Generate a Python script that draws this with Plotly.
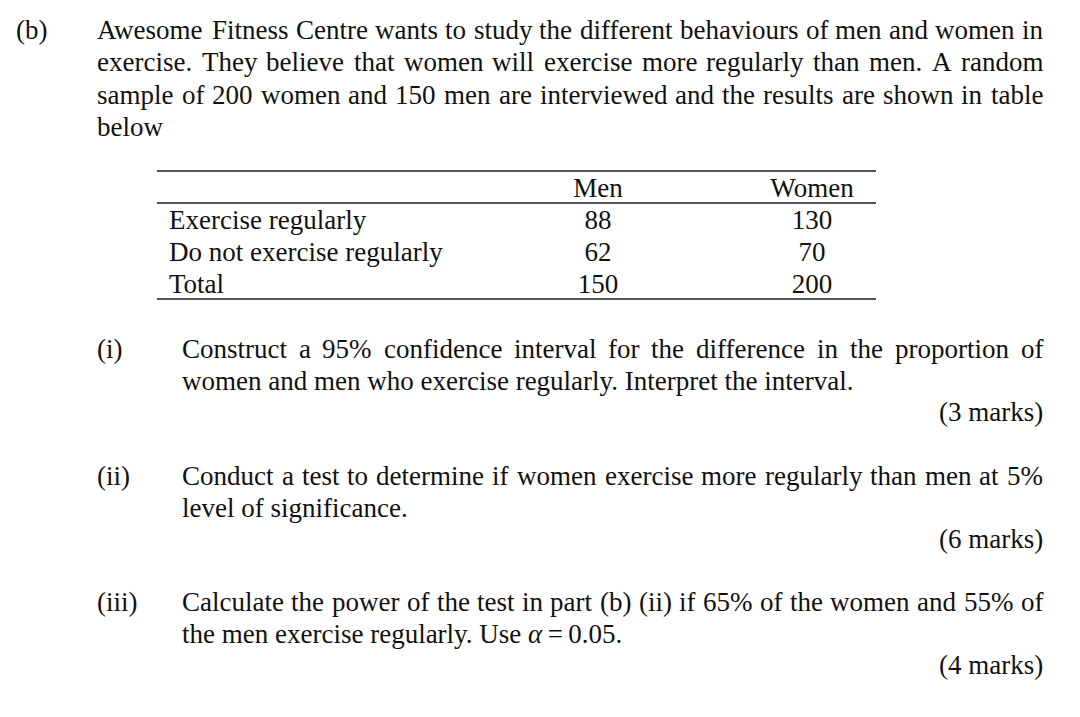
import plotly.graph_objects as go

# ---- data ----
row_labels = ["Exercise regularly", "Do not exercise regularly", "Total"]
col_labels = ["Men", "Women"]
men = [88, 62, 150]
women = [130, 70, 200]

intro_lines = [
    "Awesome Fitness Centre wants to study the different behaviours of men and women in",
    "exercise. They believe that women will exercise more regularly than men. A random",
    "sample of 200 women and 150 men are interviewed and the results are shown in table",
    "below",
]
questions = [
    ("(i)", ["Construct a 95% confidence interval for the difference in the proportion of",
             "women and men who exercise regularly. Interpret the interval."], "(3 marks)"),
    ("(ii)", ["Conduct a test to determine if women exercise more regularly than men at 5%",
              "level of significance."], "(6 marks)"),
    ("(iii)", ["Calculate the power of the test in part (b) (ii) if 65% of the women and 55% of",
               "the men exercise regularly. Use <i>α</i>\u2009=\u20090.05."], "(4 marks)"),
]

FONT = "Liberation Serif"
FS = 27
W, H = 1080, 717
OFF = 8  # page body margin

# Times-Roman advance widths (per 1000 em) for justification
_w = {' ': 250, '!': 333, '%': 833, '(': 333, ')': 333, ',': 250, '-': 333, '.': 250,
      ':': 278, ';': 278, '=': 564}
for c in '0123456789':
    _w[c] = 500
_w.update(dict(zip('ABCDEFGHIJKLMNOPQRSTUVWXYZ',
                   [722, 667, 667, 722, 611, 556, 722, 722, 333, 389, 722, 611, 889, 722, 722,
                    556, 722, 667, 556, 611, 722, 722, 944, 722, 722, 611])))
_w.update(dict(zip('abcdefghijklmnopqrstuvwxyz',
                   [444, 500, 444, 500, 444, 333, 500, 500, 278, 278, 500, 278, 778, 500, 500,
                    500, 500, 333, 389, 278, 500, 500, 722, 500, 500, 444])))


def tw(s, fs=FS):
    return sum(_w.get(c, 500) for c in s) * fs / 1000.0


fig = go.Figure()
ann = []


def text(x, y, s, anchor="left", size=FS):
    ann.append(dict(x=x, y=y, xref="x", yref="y", text=s, showarrow=False,
                    xanchor=anchor, yanchor="middle", borderpad=0, borderwidth=0,
                    font=dict(family=FONT, size=size, color="#111")))


def justified(x0, x1, y, s):
    words = s.split(" ")
    total = sum(tw(w) for w in words)
    gap = (x1 - x0 - total) / (len(words) - 1)
    x = x0
    for w in words:
        text(x, y, w)
        x += tw(w) + gap


RIGHT = 1043
# intro
text(16, 30, "(b)")
for i, ln in enumerate(intro_lines):
    y = 30 + i * 32.3
    if i < len(intro_lines) - 1:
        justified(97, RIGHT, y, ln)
    else:
        text(97, y, ln)

# table
tbl_left, tbl_right = 157, 876
label_x, men_x, women_x = 169, 598, 812
header_y = 190
row_y0, row_h = 222, 32
row_ys = [row_y0 + i * row_h for i in range(len(row_labels))]
TFS = 27

tfont = dict(family=FONT, size=TFS, color="#111")
fig.add_trace(go.Scatter(x=[men_x, women_x], y=[header_y] * 2, text=col_labels,
                         mode="text", textposition="middle center", textfont=tfont,
                         hoverinfo="skip", showlegend=False))
fig.add_trace(go.Scatter(x=[label_x] * len(row_labels), y=row_ys, text=row_labels,
                         mode="text", textposition="middle right", textfont=tfont,
                         hoverinfo="skip", showlegend=False))
fig.add_trace(go.Scatter(x=[men_x] * len(men), y=row_ys, text=[str(v) for v in men],
                         mode="text", textposition="middle center", textfont=tfont,
                         hoverinfo="skip", showlegend=False))
fig.add_trace(go.Scatter(x=[women_x] * len(women), y=row_ys, text=[str(v) for v in women],
                         mode="text", textposition="middle center", textfont=tfont,
                         hoverinfo="skip", showlegend=False))

shapes = []
for yy in (171, 203, 299):
    shapes.append(dict(type="line", xref="x", yref="y", x0=tbl_left, x1=tbl_right,
                       y0=yy, y1=yy, line=dict(color="#555", width=2)))

# questions
q_starts = [349, 476, 602]
for (lab, lines, marks), y0 in zip(questions, q_starts):
    text(97, y0, lab)
    justified(182, RIGHT, y0, lines[0])
    text(182, y0 + 31.5, lines[1])
    text(RIGHT, y0 + 63, marks, anchor="right")

fig.update_layout(
    width=W, height=H, margin=dict(l=0, r=0, t=0, b=0),
    paper_bgcolor="white", plot_bgcolor="white",
    xaxis=dict(range=[OFF, W + OFF], visible=False, fixedrange=True),
    yaxis=dict(range=[H + OFF, OFF], visible=False, fixedrange=True),
    annotations=ann, shapes=shapes,
)
fig.write_html("out.html")
